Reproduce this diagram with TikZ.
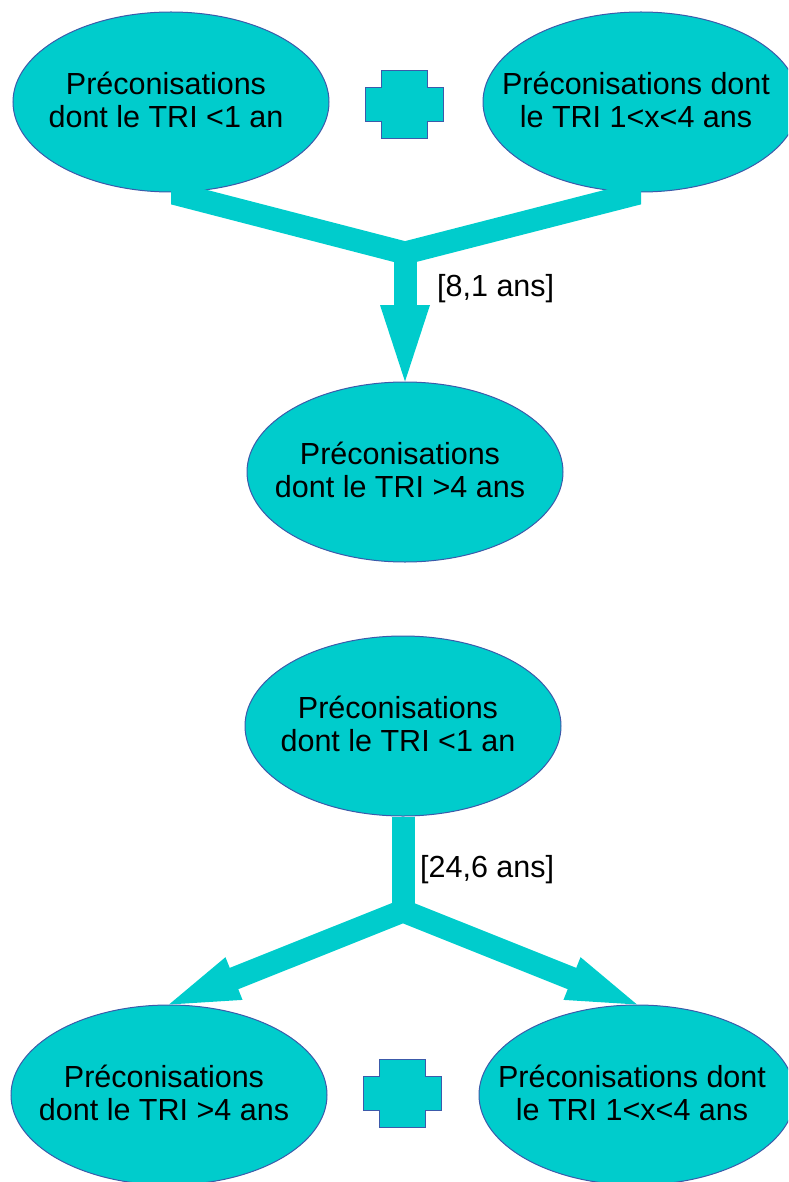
\documentclass[tikz,border=0pt]{standalone}
\usepackage{fontspec}
\setmainfont{Liberation Sans}
\usetikzlibrary{shapes.geometric,calc}
\definecolor{turq}{RGB}{0,204,204}
\definecolor{edgeblue}{RGB}{60,90,170}
\begin{document}
\begin{tikzpicture}[x=1pt,y=-1pt,
  oval/.style={ellipse, draw=edgeblue, line width=1pt, fill=turq,
    minimum width=316pt, minimum height=180pt, inner sep=0pt},
  txt/.style={align=center, font=\fontsize{30.5}{33}\selectfont, inner sep=0pt, text=black},
  lab/.style={font=\fontsize{30.5}{33}\selectfont, inner sep=0pt, anchor=west, text=black},
  conn/.style={draw=turq, line width=23pt, line join=miter},
  head/.style={fill=turq},
  plusshape/.style={draw=edgeblue, line width=1pt, fill=turq}]
\useasboundingbox (0,0) rectangle (788,1182);
\clip (0,0) rectangle (788,1182);

% ---------- top section ----------
\node[oval] (tl) at (171,102) {};
\node[oval] (tr) at (641,102) {};
\node[oval] (mid1) at (405,472) {};
\node[txt] (ttl) at ($(tl)+(-5,-2)$) {Préconisations\\dont le TRI <1 an};
\node[txt] (ttr) at ($(tr)+(-5,-2)$) {Préconisations dont\\le TRI 1<x<4 ans};
\node[txt] (tmid1) at ($(mid1)+(-5,-2)$) {Préconisations\\dont le TRI >4 ans};

\coordinate (p1) at (404,105);
\begin{scope}[shift={(p1)}]
  \draw[plusshape] (-23,-34) -- (23,-34) -- (23,-17) -- (39,-17) -- (39,17) -- (23,17)
    -- (23,34) -- (-23,34) -- (-23,17) -- (-39,17) -- (-39,-17) -- (-23,-17) -- cycle;
\end{scope}

\coordinate (j1) at (405,253);
\coordinate (a1) at (405,305);
\begin{scope}
  \clip ($(tl.south)+(0,-25)$) rectangle ($(tr.south)+(0,80)$);
  \draw[conn] ($(j1)!1.15!(tl.south)$) -- (j1) -- ($(j1)!1.15!(tr.south)$);
\end{scope}
\draw[conn] (j1) -- ($(a1)+(0,3)$);
\fill[head] ($(a1)+(-25,0)$) -- ($(a1)+(25,0)$) -- (mid1.north) -- cycle;
\node[lab] (l1) at (437,289) {[8,1 ans]};

% ---------- bottom section ----------
\node[oval] (mid2) at (403,726) {};
\node[oval] (bl) at (169,1095) {};
\node[oval] (br) at (637,1095) {};
\node[txt] (tmid2) at ($(mid2)+(-5,-2)$) {Préconisations\\dont le TRI <1 an};
\node[txt] (tbl) at ($(bl)+(-5,-2)$) {Préconisations\\dont le TRI >4 ans};
\node[txt] (tbr) at ($(br)+(-5,-2)$) {Préconisations dont\\le TRI 1<x<4 ans};

\coordinate (p2) at (402,1093);
\begin{scope}[shift={(p2)}]
  \draw[plusshape] (-23,-34) -- (23,-34) -- (23,-17) -- (39,-17) -- (39,17) -- (23,17)
    -- (23,34) -- (-23,34) -- (-23,17) -- (-39,17) -- (-39,-17) -- (-23,-17) -- cycle;
\end{scope}

\coordinate (j2) at (403,911);
\coordinate (blb) at ($(bl.north)!70pt!(j2)$);
\coordinate (brb) at ($(br.north)!70pt!(j2)$);
\coordinate (bls) at ($(bl.north)!67pt!(j2)$);
\coordinate (brs) at ($(br.north)!67pt!(j2)$);
\draw[conn] (mid2.south) -- (j2);
\draw[conn] (bls) -- (j2) -- (brs);
\fill[head] ($(blb)!23pt!90:(j2)$) -- ($(blb)!23pt!-90:(j2)$) -- (bl.north) -- cycle;
\fill[head] ($(brb)!23pt!90:(j2)$) -- ($(brb)!23pt!-90:(j2)$) -- (br.north) -- cycle;
\node[lab] (l2) at (420,870) {[24,6 ans]};
\end{tikzpicture}
\end{document}
